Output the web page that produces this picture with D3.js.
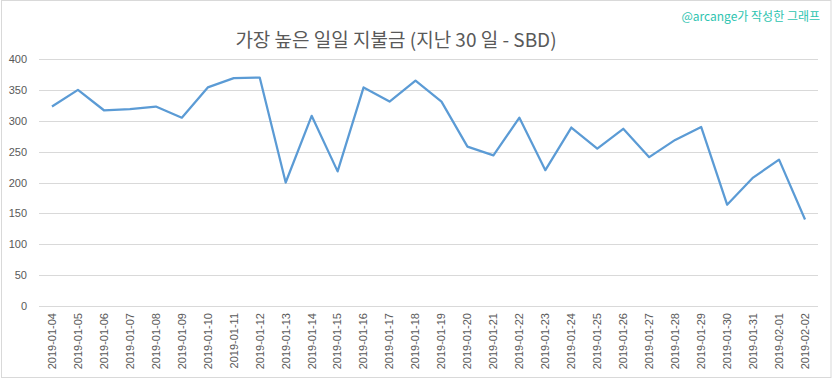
<!DOCTYPE html>
<html>
<head>
<meta charset="utf-8">
<script src="https://cdn.jsdelivr.net/npm/d3@7"></script>
<style>
  body { margin: 0; background: #fff; }
  text { font-family: "Liberation Sans", Arial, sans-serif; }
</style>
</head>
<body>
<script>
// données
const dates = ["2019-01-04","2019-01-05","2019-01-06","2019-01-07","2019-01-08","2019-01-09",
  "2019-01-10","2019-01-11","2019-01-12","2019-01-13","2019-01-14","2019-01-15","2019-01-16",
  "2019-01-17","2019-01-18","2019-01-19","2019-01-20","2019-01-21","2019-01-22","2019-01-23",
  "2019-01-24","2019-01-25","2019-01-26","2019-01-27","2019-01-28","2019-01-29","2019-01-30",
  "2019-01-31","2019-02-01","2019-02-02"]
const paiements = [323, 350, 317, 319, 323, 305, 354, 369, 370, 200, 308, 218, 354,
  331, 365, 331, 258, 244, 305, 220, 289, 255, 287, 241, 269, 290, 164, 208, 237, 140]
const yTicks = [0, 50, 100, 150, 200, 250, 300, 350, 400]

const titre = "가장 높은 일일 지불금 (지난 30 일 - SBD)"
const signature = "@arcange가 작성한 그래프"

const width = 833, height = 379
const margin = { top: 59, right: 15, bottom: 73, left: 39 }

let svg = d3.select("body").append("svg")
  .attr("width", width)
  .attr("height", height)

// cadre
svg.append("rect")
  .attr("x", 1.5).attr("y", 0.5)
  .attr("width", 829.5).attr("height", 377)
  .attr("fill", "#fff")
  .attr("stroke", "#d9d9d9")

let x = d3.scaleBand()
  .domain(dates)
  .range([margin.left, width - margin.right])

let y = d3.scaleLinear()
  .domain([0, 400])
  .range([height - margin.bottom, margin.top])

// grille
svg.append("g")
  .selectAll("line")
  .data(yTicks)
  .enter()
  .append("line")
  .attr("x1", margin.left)
  .attr("x2", width - margin.right)
  .attr("y1", d => Math.round(y(d)) + 0.5)
  .attr("y2", d => Math.round(y(d)) + 0.5)
  .attr("stroke", "#d9d9d9")
  .attr("stroke-width", 1)

// axe Y
let yAxis = svg.append("g")
  .attr("transform", "translate(" + (margin.left - 12) + ",0)")
  .call(d3.axisLeft(y).tickValues(yTicks).tickSize(0).tickPadding(0))
yAxis.select(".domain").remove()
yAxis.selectAll("text")
  .attr("fill", "#595959")
  .style("font-size", "11px")

// axe X
let xAxis = svg.append("g")
  .attr("transform", "translate(0," + (height - margin.bottom) + ")")
  .call(d3.axisBottom(x).tickSize(0).tickPadding(0))
xAxis.select(".domain").remove()
xAxis.selectAll("text")
  .attr("fill", "#595959")
  .style("font-size", "11px")
  .attr("text-anchor", "end")
  .attr("transform", "rotate(-90)")
  .attr("x", -7)
  .attr("y", 0)
  .attr("dy", "0.35em")

// ligne
let ligne = d3.line()
  .x((d, i) => x(dates[i]) + x.bandwidth() / 2)
  .y(d => y(d))

svg.append("path")
  .datum(paiements)
  .attr("d", ligne)
  .attr("fill", "none")
  .attr("stroke", "#5b9bd5")
  .attr("stroke-width", 2.25)
  .attr("stroke-linejoin", "round")

// titre
svg.append("text")
  .attr("x", 396)
  .attr("y", 47)
  .attr("text-anchor", "middle")
  .attr("fill", "#595959")
  .style("font-family", "'Noto Sans CJK KR', 'Noto Sans', sans-serif")
  .style("font-size", "19px")
  .text(titre)

// signature
svg.append("text")
  .attr("x", 820)
  .attr("y", 21)
  .attr("text-anchor", "end")
  .attr("fill", "#2ec4b0")
  .style("font-family", "'Noto Sans CJK KR', 'Noto Sans', sans-serif")
  .style("font-size", "12px")
  .text(signature)
</script>
</body>
</html>
